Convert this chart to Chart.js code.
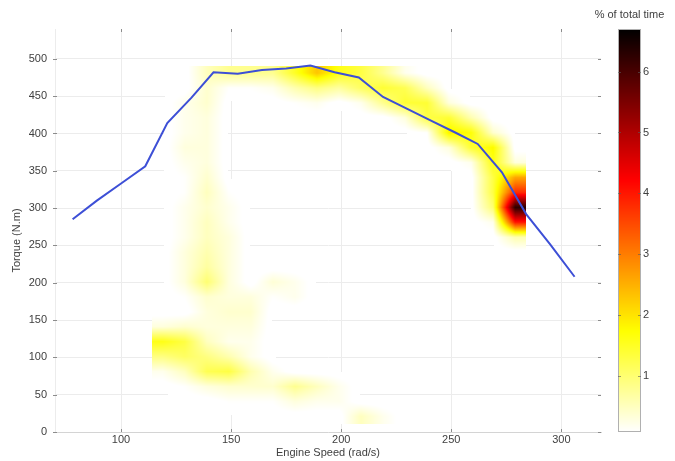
<!DOCTYPE html>
<html>
<head>
<meta charset="utf-8">
<script src="https://cdn.jsdelivr.net/npm/chart.js@4.4.1/dist/chart.umd.min.js"></script>
<style>
html, body { margin: 0; padding: 0; background: #fff; }
</style>
</head>
<body>
<canvas id="myChart" width="675" height="461"></canvas>
<script>
'use strict'
// max torque curve
let lineSpeed = [78, 89, 100, 111, 121, 132, 142, 153, 164, 175, 186, 197, 208, 219, 230, 241, 252, 262, 273, 284, 295, 306];
let lineTorque = [285, 310, 333, 356, 414, 448, 482, 480, 485, 487, 491, 482, 475, 449, 433, 417, 401, 386, 348, 292, 251, 208];

let speedTicks = [100, 150, 200, 250, 300];
let torqueTicks = [0, 50, 100, 150, 200, 250, 300, 350, 400, 450, 500];
let pctTicks = [1, 2, 3, 4, 5, 6];
let pctMin = 0.08;
let pctMax = 6.7;

// histogram bins (centres) and % of total time in each
let binSpeed = [119, 129, 139, 149, 159, 169, 179, 189, 199, 209, 219, 229, 239, 249, 259, 269, 279];
let binTorque = [481, 461, 441, 421, 401, 381, 361, 341, 321, 301, 281, 261, 241, 221, 201, 181, 161, 141, 121, 101, 81, 61, 41, 21];
let pctTime = [
  [0, 0, 0.5, 0.8, 0.8, 0.8, 1.5, 2.3, 1.6, 1.3, 0.8, 0.2, 0, 0, 0, 0, 0],
  [0, 0, 0.4, 0.1, 0.1, 0.2, 0.6, 0.9, 0.7, 1.1, 1.4, 1.2, 0.5, 0, 0, 0, 0],
  [0, 0.2, 0.4, 0, 0, 0, 0.1, 0.2, 0, 0.2, 0.8, 1.4, 1.4, 0.3, 0, 0, 0],
  [0, 0.2, 0.3, 0, 0, 0, 0, 0, 0, 0, 0, 0.3, 1.3, 1.4, 0.6, 0, 0],
  [0, 0.2, 0.3, 0, 0, 0, 0, 0, 0, 0, 0, 0, 0.1, 1.9, 1.7, 0.4, 0],
  [0, 0.3, 0.3, 0, 0, 0, 0, 0, 0, 0, 0, 0, 0, 0.3, 1.4, 1.8, 0],
  [0, 0.2, 0.3, 0, 0, 0, 0, 0, 0, 0, 0, 0, 0, 0, 0.2, 1.6, 0.3],
  [0, 0.1, 0.4, 0, 0, 0, 0, 0, 0, 0, 0, 0, 0, 0, 0, 1.3, 2.6],
  [0, 0.1, 0.5, 0.1, 0, 0, 0, 0, 0, 0, 0, 0, 0, 0, 0, 1.3, 3.8],
  [0, 0.2, 0.4, 0.2, 0, 0, 0, 0, 0, 0, 0, 0, 0, 0, 0, 1.0, 6.3],
  [0, 0.2, 0.5, 0.2, 0, 0, 0, 0, 0, 0, 0, 0, 0, 0, 0, 0.2, 4.0],
  [0, 0.2, 0.5, 0.3, 0, 0, 0, 0, 0, 0, 0, 0, 0, 0, 0, 0, 0.6],
  [0, 0.3, 0.6, 0.3, 0, 0, 0, 0, 0, 0, 0, 0, 0, 0, 0, 0, 0],
  [0, 0.3, 0.7, 0.3, 0, 0, 0, 0, 0, 0, 0, 0, 0, 0, 0, 0, 0],
  [0, 0.3, 1.0, 0.3, 0, 0.35, 0.2, 0, 0, 0, 0, 0, 0, 0, 0, 0, 0],
  [0, 0.1, 0.4, 0.3, 0.3, 0.1, 0.2, 0, 0, 0, 0, 0, 0, 0, 0, 0, 0],
  [0, 0, 0.3, 0.4, 0.4, 0, 0, 0, 0, 0, 0, 0, 0, 0, 0, 0, 0],
  [0.3, 0.4, 0.3, 0.3, 0.3, 0, 0, 0, 0, 0, 0, 0, 0, 0, 0, 0, 0],
  [1.6, 1.3, 0.5, 0.2, 0.2, 0, 0, 0, 0, 0, 0, 0, 0, 0, 0, 0, 0],
  [0.9, 1.1, 0.9, 0.6, 0.2, 0, 0, 0, 0, 0, 0, 0, 0, 0, 0, 0, 0],
  [0.2, 0.5, 1.2, 1.3, 0.6, 0.2, 0, 0, 0, 0, 0, 0, 0, 0, 0, 0, 0],
  [0, 0.1, 0.3, 0.4, 0.4, 0.4, 0.8, 0.5, 0.2, 0, 0, 0, 0, 0, 0, 0, 0],
  [0, 0, 0, 0.1, 0.1, 0.1, 0.3, 0.2, 0.2, 0, 0, 0, 0, 0, 0, 0, 0],
  [0, 0, 0, 0, 0, 0, 0, 0, 0, 0.5, 0.2, 0, 0, 0, 0, 0, 0]
];

let fontFam = '"Liberation Sans", Arial, Helvetica, sans-serif';
let textCol = '#404040';

// reversed matlab "hot"
function hotColor(v){
  let t = (v - pctMin) / (pctMax - pctMin);
  t = Math.min(1, Math.max(0, t));
  let u = 1 - t;
  let r = Math.min(1, u / 0.375);
  let g = Math.min(1, Math.max(0, (u - 0.375) / 0.375));
  let b = Math.min(1, Math.max(0, (u - 0.75) / 0.25));
  return [Math.round(r * 255), Math.round(g * 255), Math.round(b * 255)];
}

// bilinear lookup in the bin table
function gridValue(s, q){
  let nx = binSpeed.length, ny = binTorque.length;
  let dx = binSpeed[1] - binSpeed[0];
  let dy = binTorque[0] - binTorque[1];
  let fx = (s - binSpeed[0]) / dx;
  let fy = (binTorque[0] - q) / dy;
  if (fx < -0.5 || fx > nx - 0.5 || fy < -0.5 || fy > ny - 0.5) return 0;
  fx = Math.min(Math.max(fx, 0), nx - 1);
  fy = Math.min(Math.max(fy, 0), ny - 1);
  let i0 = Math.floor(fx), j0 = Math.floor(fy);
  let i1 = Math.min(i0 + 1, nx - 1), j1 = Math.min(j0 + 1, ny - 1);
  let ax = fx - i0, ay = fy - j0;
  let top = pctTime[j0][i0] * (1 - ax) + pctTime[j0][i1] * ax;
  let bot = pctTime[j1][i0] * (1 - ax) + pctTime[j1][i1] * ax;
  return top * (1 - ay) + bot * ay;
}

let heatPlugin = {
  id: 'heat',
  beforeDatasetsDraw(chart){
    let ctx = chart.ctx;
    let area = chart.chartArea;
    let xs = chart.scales.x, ys = chart.scales.y;
    let w = Math.round(area.right - area.left), h = Math.round(area.bottom - area.top);
    let off = document.createElement('canvas');
    off.width = w; off.height = h;
    let octx = off.getContext('2d');
    let img = octx.createImageData(w, h);
    for (let j = 0; j < h; j++){
      let q = ys.getValueForPixel(area.top + j + 0.5);
      for (let i = 0; i < w; i++){
        let s = xs.getValueForPixel(area.left + i + 0.5);
        let v = gridValue(s, q);
        if (v <= 0.01) continue;
        let c = hotColor(v);
        let k = (j * w + i) * 4;
        img.data[k] = c[0];
        img.data[k + 1] = c[1];
        img.data[k + 2] = c[2];
        img.data[k + 3] = 255;
      }
    }
    octx.putImageData(img, 0, 0);
    ctx.drawImage(off, area.left, area.top);
  },
  afterDraw(chart){
    let ctx = chart.ctx;
    let area = chart.chartArea;
    let xs = chart.scales.x, ys = chart.scales.y, cb = chart.scales.cb;
    ctx.save();
    // little inward ticks on all four sides
    ctx.strokeStyle = '#8c8c8c';
    ctx.lineWidth = 1;
    ctx.beginPath();
    speedTicks.forEach(function(v){
      let px = Math.round(xs.getPixelForValue(v)) + 0.5;
      ctx.moveTo(px, area.bottom); ctx.lineTo(px, area.bottom - 3);
      ctx.moveTo(px, area.top); ctx.lineTo(px, area.top + 3);
    });
    torqueTicks.forEach(function(v){
      let py = Math.round(ys.getPixelForValue(v)) + 0.5;
      ctx.moveTo(area.left - 2, py); ctx.lineTo(area.left + 2, py);
      ctx.moveTo(area.right, py); ctx.lineTo(area.right - 3, py);
    });
    ctx.stroke();

    // colour bar
    let bx = cb.left + 17, bw = 23;
    for (let py = Math.round(cb.top); py < Math.round(cb.bottom); py++){
      let c = hotColor(cb.getValueForPixel(py + 0.5));
      ctx.fillStyle = 'rgb(' + c[0] + ',' + c[1] + ',' + c[2] + ')';
      ctx.fillRect(bx, py, bw, 1);
    }
    ctx.strokeStyle = '#b0b0b0';
    ctx.strokeRect(bx + 0.5, Math.round(cb.top) + 0.5, bw - 1, Math.round(cb.bottom - cb.top) - 1);
    ctx.strokeStyle = 'rgba(90,90,90,0.6)';
    ctx.beginPath();
    pctTicks.forEach(function(v){
      let py = Math.round(cb.getPixelForValue(v)) + 0.5;
      ctx.moveTo(bx, py); ctx.lineTo(bx + 3, py);
      ctx.moveTo(bx + bw, py); ctx.lineTo(bx + bw - 3, py);
    });
    ctx.stroke();

    ctx.fillStyle = textCol;
    ctx.font = '11px ' + fontFam;
    ctx.textAlign = 'center';
    ctx.textBaseline = 'middle';
    ctx.fillText('% of total time', bx + bw / 2, 15);

    // y axis title
    ctx.translate(17, (area.top + area.bottom) / 2 + 10);
    ctx.rotate(-Math.PI / 2);
    ctx.fillText('Torque (N.m)', 0, 0);
    ctx.restore();
  }
};

let lineData = [];
for (let i = 0; i < lineSpeed.length; i++){
  lineData.push({x: lineSpeed[i], y: lineTorque[i]});
}

Chart.defaults.font.family = fontFam;
Chart.defaults.font.size = 11;
Chart.defaults.color = textCol;

let ctx = document.getElementById('myChart').getContext('2d');
let chart = new Chart(ctx, {
  type: 'line',
  data: {
    datasets: [{
      label: 'max torque',
      data: lineData,
      borderColor: '#3d4fd6',
      borderWidth: 2,
      pointRadius: 0,
      tension: 0,
      fill: false
    }]
  },
  options: {
    responsive: false,
    animation: false,
    devicePixelRatio: 1,
    layout: { padding: { top: 29, left: 0, right: 0, bottom: 0 } },
    plugins: { legend: { display: false }, tooltip: { enabled: false } },
    scales: {
      x: {
        type: 'linear',
        min: 70,
        max: 318,
        afterFit: function(s){ s.height = 29; },
        afterBuildTicks: function(s){ s.ticks = speedTicks.map(function(v){ return {value: v}; }); },
        grid: { color: '#ececec', drawTicks: false },
        border: { color: '#d4d4d4' },
        ticks: { padding: 1, maxRotation: 0 },
        title: { display: true, text: 'Engine Speed (rad/s)', padding: { top: 0, bottom: 1.5 } }
      },
      y: {
        type: 'linear',
        min: 0,
        max: 540,
        afterFit: function(s){ s.width = 55; },
        afterBuildTicks: function(s){ s.ticks = torqueTicks.map(function(v){ return {value: v}; }); },
        grid: { color: '#ececec', drawTicks: false },
        border: { color: '#ececec' },
        ticks: { padding: 8 }
      },
      cb: {
        type: 'linear',
        position: 'right',
        min: pctMin,
        max: pctMax,
        afterFit: function(s){ s.width = 74; },
        afterBuildTicks: function(s){ s.ticks = pctTicks.map(function(v){ return {value: v}; }); },
        grid: { display: true, drawOnChartArea: false, drawTicks: true, tickLength: 40, tickColor: 'rgba(0,0,0,0)', color: 'rgba(0,0,0,0)' },
        border: { display: false },
        ticks: { padding: 2 }
      }
    }
  },
  plugins: [heatPlugin]
});
</script>
</body>
</html>
